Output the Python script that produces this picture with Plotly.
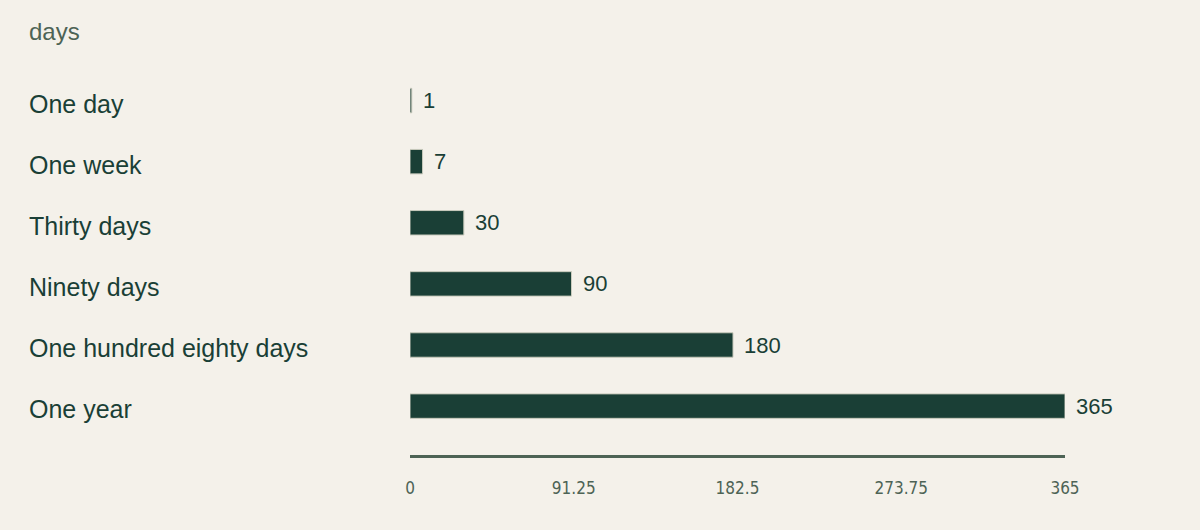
import plotly.graph_objects as go

# dados do grafico
categorias = ["One day", "One week", "Thirty days", "Ninety days",
              "One hundred eighty days", "One year"]
dias = [1, 7, 30, 90, 180, 365]
ticks = [0, 91.25, 182.5, 273.75, 365]
tick_labels = ["0", "91.25", "182.5", "273.75", "365"]

verde = "#1a3f36"
cinza = "#4d6355"
fundo = "#f4f1ea"
fonte = "Liberation Sans, Arial"

fig = go.Figure()
fig.add_trace(go.Bar(
    x=dias, y=categorias, orientation="h",
    marker=dict(color=verde, line=dict(color="#c9cbbd", width=1)),
    width=0.4,
))

# rotulos das categorias alinhados a esquerda + valores depois das barras
for c, d in zip(categorias, dias):
    fig.add_annotation(x=0, xref="paper", y=c, yref="y", text=c,
                       xanchor="left", xshift=-2, yshift=-3, showarrow=False,
                       font=dict(family=fonte, size=25, color=verde))
    fig.add_annotation(x=d, xref="x", y=c, yref="y", text=str(d),
                       xanchor="left", xshift=9, showarrow=False,
                       font=dict(family=fonte, size=22, color=verde))

fig.update_layout(
    width=1200, height=530,
    paper_bgcolor=fundo, plot_bgcolor=fundo,
    margin=dict(l=29, r=135, t=70, b=75),
    showlegend=False,
    title=dict(text="days", x=29 / 1200, xanchor="left", y=0.94, yanchor="middle",
               font=dict(family=fonte, size=24, color=cinza)),
    xaxis=dict(domain=[(410 - 29) / 1036, 1], range=[0, 365],
               tickvals=ticks, ticktext=tick_labels,
               showgrid=False, zeroline=False,
               showline=True, linecolor=cinza, linewidth=3,
               ticks="", ticklabelstandoff=16,
               tickfont=dict(family="Liberation Sans Narrow, DejaVu Sans Condensed, Arial",
                             size=17, color=cinza)),
    yaxis=dict(categoryorder="array", categoryarray=categorias,
               range=[5.8, -0.5], showticklabels=False,
               showgrid=False, zeroline=False, showline=False),
)

fig.write_html("out.html", config={"displayModeBar": False},
               post_script="document.body.style.margin='0';")
